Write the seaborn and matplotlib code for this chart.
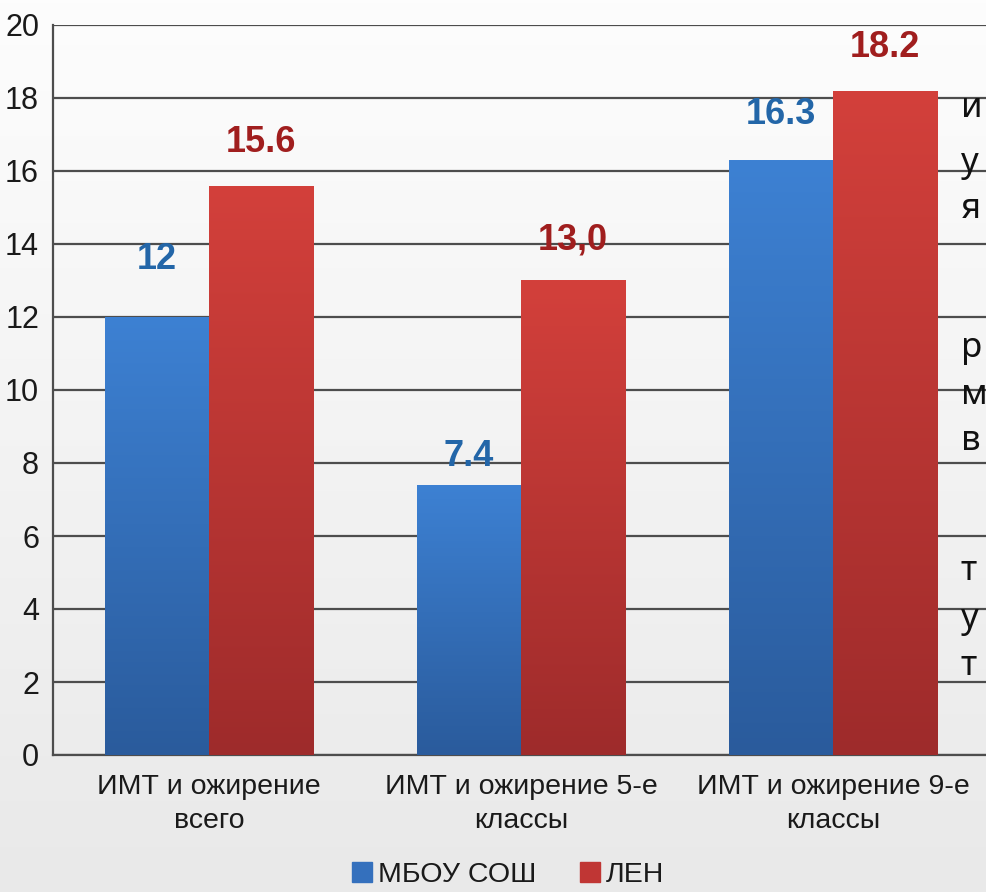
import numpy as np
import pandas as pd
import seaborn as sns
from matplotlib import pyplot as plt
from matplotlib.colors import LinearSegmentedColormap
from matplotlib.lines import Line2D

categories = [
    "ИМТ и ожирение\nвсего",
    "ИМТ и ожирение 5-е\nклассы",
    "ИМТ и ожирение 9-е\nклассы",
]
series_names = ["МБОУ СОШ", "ЛЕН"]
mbou_values = [12, 7.4, 16.3]
len_values = [15.6, 13.0, 18.2]
mbou_labels = ["12", "7.4", "16.3"]
len_labels = ["15.6", "13,0", "18.2"]
y_ticks = [0, 2, 4, 6, 8, 10, 12, 14, 16, 18, 20]

# cut-off slide text on the right edge
side_letters = ["и", "у", "я", "р", "м", "в", "т", "у", "т"]

df = pd.DataFrame(
    {
        "cat": categories * 2,
        "val": mbou_values + len_values,
        "series": [series_names[0]] * 3 + [series_names[1]] * 3,
    }
)

sns.set_theme(style="white")
plt.rcParams["font.family"] = ["Liberation Sans", "DejaVu Sans"]

W, H = 987, 892
fig = plt.figure(figsize=(W / 100, H / 100), dpi=100)

# light grey background gradient
bg = fig.add_axes([0, 0, 1, 1], zorder=-10)
bg_cmap = LinearSegmentedColormap.from_list("bg", ["#e9e9e9", "#fdfdfd"])
bg.imshow(np.linspace(0, 1, 256).reshape(-1, 1)[::-1], cmap=bg_cmap,
          aspect="auto", extent=(0, 1, 0, 1))
bg.axis("off")

ax = fig.add_axes([53 / W, 137 / H, 936 / W, 730 / H])
ax.set_facecolor("none")

blue_mid, red_mid = "#3470bd", "#c03634"
sns.barplot(
    data=df, x="cat", y="val", hue="series",
    palette=[blue_mid, red_mid], width=0.667, gap=0,
    legend=False, ax=ax, zorder=3, linewidth=0,
)

ax.set_xlim(-0.5, 2.5)
ax.set_ylim(0, 20)

# gradient fill for bars
grads = {
    series_names[0]: LinearSegmentedColormap.from_list("b", ["#2a5b9c", "#3d81d3"]),
    series_names[1]: LinearSegmentedColormap.from_list("r", ["#9e2b2b", "#d3403b"]),
}
containers = ax.containers
for name, cont in zip(series_names, containers):
    for patch in cont:
        x0, y0 = patch.get_x(), patch.get_y()
        w, h = patch.get_width(), patch.get_height()
        im = ax.imshow(
            np.linspace(0, 1, 256).reshape(-1, 1)[::-1],
            cmap=grads[name], aspect="auto",
            extent=(x0, x0 + w, y0, y0 + h), zorder=4,
        )
        im.set_clip_path(patch)
ax.set_xlim(-0.5, 2.5)
ax.set_ylim(0, 20)

# value labels
label_sets = [(mbou_labels, "#2366a8"), (len_labels, "#a01e1e")]
offsets = [[55, 26, 43], [41, 38, 41]]
for (labels, col), cont, offs in zip(label_sets, containers, offsets):
    for patch, lab, off in zip(cont, labels, offs):
        ax.annotate(
            lab,
            (patch.get_x() + patch.get_width() / 2, patch.get_height()),
            xytext=(0, off * 0.72 + 1.5), textcoords="offset points",
            ha="center", va="center", fontsize=26, fontweight="bold",
            color=col, zorder=6,
        )

ax.set_yticks(y_ticks)
ax.yaxis.grid(True, color="#4d4d4d", linewidth=1.6, zorder=1)
ax.set_axisbelow(True)
ax.tick_params(axis="y", length=0, pad=10, labelsize=22, labelcolor="#1a1a1a")
ax.tick_params(axis="x", length=0, pad=14, labelsize=20.5, labelcolor="#1a1a1a")
ax.set_xlabel("")
ax.set_ylabel("")
for side in ["top", "right"]:
    ax.spines[side].set_visible(False)
for side in ["left", "bottom"]:
    ax.spines[side].set_color("#4d4d4d")
    ax.spines[side].set_linewidth(1.6)
for t in ax.get_xticklabels():
    t.set_linespacing(1.4)

handles = [
    Line2D([], [], marker="s", linestyle="", markersize=14, color=blue_mid),
    Line2D([], [], marker="s", linestyle="", markersize=14, color=red_mid),
]
fig.legend(
    handles, series_names, loc="center", bbox_to_anchor=(506 / W, 1 - 875 / H),
    ncol=2, frameon=False, fontsize=20.5, handletextpad=0.05,
    columnspacing=1.4, handlelength=1.0, labelcolor="#1a1a1a",
    borderpad=0.1,
)

# partially hidden slide text at the right edge
baselines = [117, 172, 218, 357, 404, 450, 580, 628, 675]
for letter, yb in zip(side_letters, baselines):
    fig.text(961 / W, 1 - yb / H, letter, fontsize=25, family="Noto Sans",
             va="baseline", ha="left", color="#111111")

fig.savefig("out.png", dpi=100)
